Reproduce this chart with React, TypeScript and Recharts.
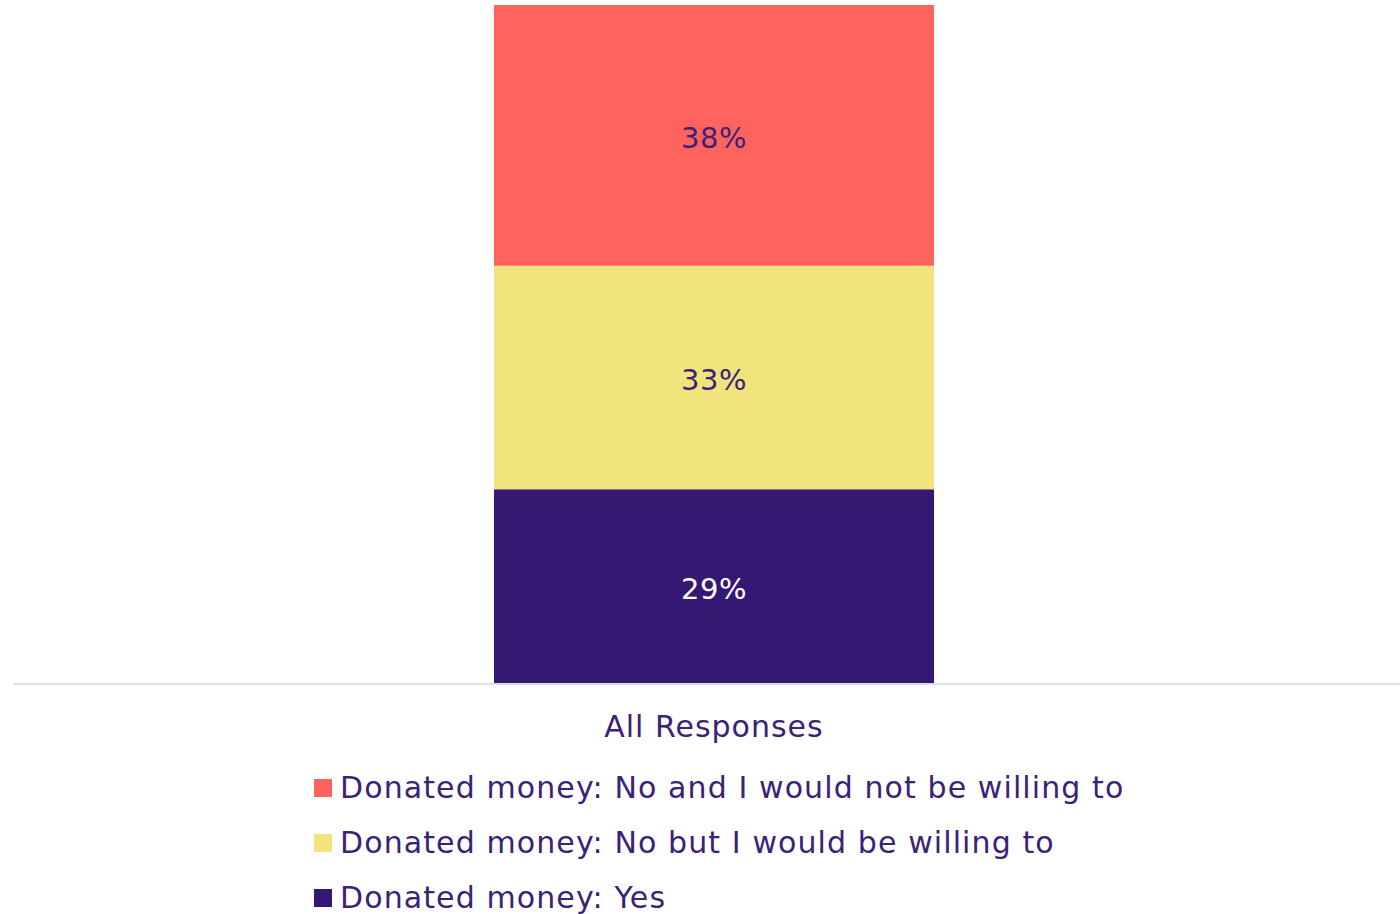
import { BarChart, Bar, XAxis, YAxis, Legend, LabelList } from "recharts";

const categories = ["All Responses"];
const yesValues = [28.7];
const willingValues = [32.9];
const notWillingValues = [38.4];

const SERIES = [
  { key: "yes", name: "Donated money: Yes", color: "#341873", label: "#ffffff" },
  { key: "willing", name: "Donated money: No but I would be willing to", color: "#F2E47D", label: "#3a2279" },
  { key: "notWilling", name: "Donated money: No and I would not be willing to", color: "#FF635E", label: "#3a2279" },
];

const TEXT = "#3a2279";
const FONT = "'DejaVu Sans', sans-serif";

const data = categories.map((name, i) => ({
  name,
  yes: yesValues[i],
  willing: willingValues[i],
  notWilling: notWillingValues[i],
}));

function LegendBox() {
  const items = [...SERIES].reverse();
  return (
    <div style={{ paddingTop: 16, paddingLeft: 314, fontFamily: FONT, fontSize: 30, letterSpacing: 1.1, color: TEXT }}>
      {items.map((s) => (
        <div key={s.key} style={{ display: "flex", alignItems: "center", height: 55 }}>
          <span style={{ width: 18, height: 18, background: s.color, marginRight: 8, display: "inline-block" }} />
          <span>{s.name}</span>
        </div>
      ))}
    </div>
  );
}

export default function App() {
  return (
    <div style={{ position: "absolute", left: 0, top: 0, width: 1400, height: 914, overflow: "hidden", background: "#fff" }}>
      <BarChart width={1415} height={914} data={data} margin={{ top: 5, right: 0, left: 13, bottom: 0 }}>
        <XAxis
          dataKey="name"
          axisLine={{ stroke: "#dcdfeb", strokeWidth: 2 }}
          tickLine={false}
          height={60}
          tick={{ fill: TEXT, fontSize: 30, fontFamily: FONT, letterSpacing: 1 }}
          dy={24}
        />
        <YAxis hide domain={[0, 100]} />
        <Legend
          verticalAlign="bottom"
          height={170}
          wrapperStyle={{ left: 0, width: 1415 }}
          content={() => <LegendBox />}
        />
        {SERIES.map((s) => (
          <Bar key={s.key} dataKey={s.key} name={s.name} stackId="a" fill={s.color} barSize={440} isAnimationActive={false}>
            <LabelList
              dataKey={s.key}
              position="center"
              formatter={(v: number) => `${Math.round(v)}%`}
              dy={2}
              style={{ fill: s.label, fontSize: 29, fontFamily: FONT, letterSpacing: 0.5 }}
            />
          </Bar>
        ))}
      </BarChart>
    </div>
  );
}
